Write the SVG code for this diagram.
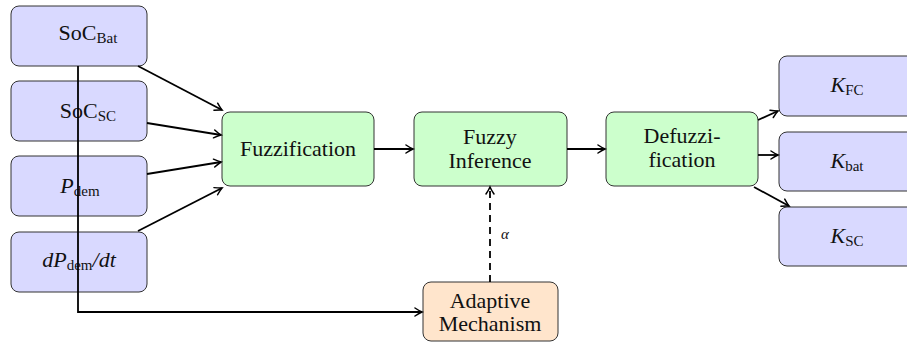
<svg xmlns="http://www.w3.org/2000/svg" width="907" height="345" viewBox="0 0 907 345" font-family="'Liberation Serif', 'Times New Roman', 'DejaVu Serif', serif">
<defs>
<marker id="arr" viewBox="-10 -6 12 12" refX="0" refY="0" markerWidth="12" markerHeight="12" markerUnits="userSpaceOnUse" orient="auto">
<path d="M-7,-4 Q-2.5,-1 0,0 Q-2.5,1 -7,4" fill="none" stroke="#000" stroke-width="1.5" stroke-linecap="round"/>
</marker>
<style>
.box{stroke:#333;stroke-width:1}
.in{fill:#d9d9ff}
.proc{fill:#ccffcc}
.adp{fill:#ffe5cc}
.t{font-family:'Liberation Serif','Times New Roman','DejaVu Serif',serif;font-size:22px;fill:#111;text-anchor:middle}
.it{font-style:italic}
.sub{font-size:15px;font-style:normal}
.lbl{font-size:15px;font-style:italic}
.c{fill:none;stroke:#000;stroke-width:1.8}
.d{stroke-dasharray:7,5}
</style>
</defs>
<g id="soc_bat"><rect class="box in" x="11" y="6" width="136" height="60" rx="8"/><text class="t" x="88" y="40">SoC<tspan class="sub" dy="3">Bat</tspan></text></g>
<g id="soc_sc"><rect class="box in" x="11" y="81" width="136" height="60" rx="8"/><text class="t" x="88" y="118">SoC<tspan class="sub" dy="3">SC</tspan></text></g>
<g id="p_dem"><rect class="box in" x="11" y="156" width="136" height="60" rx="8"/><text class="t" x="80" y="193"><tspan class="it">P</tspan><tspan class="sub" dy="3">dem</tspan></text></g>
<g id="dp_dem"><rect class="box in" x="11" y="232" width="136" height="60" rx="8"/><text class="t" x="79" y="267"><tspan class="it">dP</tspan><tspan class="sub" dy="3">dem</tspan><tspan class="it" dy="-3">/dt</tspan></text></g>
<g id="fuzzification"><rect class="box proc" x="222" y="112" width="152" height="74" rx="8"/><text class="t" x="298" y="156">Fuzzification</text></g>
<g id="inference"><rect class="box proc" x="414" y="112" width="153" height="74" rx="8"/><text class="t" x="490" y="144">Fuzzy</text><text class="t" x="490" y="168">Inference</text></g>
<g id="defuzzification"><rect class="box proc" x="606" y="112" width="152" height="74" rx="8"/><text class="t" x="682" y="143">Defuzzi-</text><text class="t" x="682" y="167">fication</text></g>
<g id="k_fc"><rect class="box in" x="779" y="56" width="136" height="60" rx="8"/><text class="t" x="847" y="92"><tspan class="it">K</tspan><tspan class="sub" dy="3">FC</tspan></text></g>
<g id="k_bat"><rect class="box in" x="779" y="132" width="136" height="59" rx="8"/><text class="t" x="847" y="168"><tspan class="it">K</tspan><tspan class="sub" dy="3">bat</tspan></text></g>
<g id="k_sc"><rect class="box in" x="779" y="207" width="136" height="59" rx="8"/><text class="t" x="847" y="243"><tspan class="it">K</tspan><tspan class="sub" dy="3">SC</tspan></text></g>
<g id="adaptive"><rect class="box adp" x="423" y="282" width="135" height="59" rx="8"/><text class="t" x="490" y="308">Adaptive</text><text class="t" x="490" y="331">Mechanism</text></g>
<g id="connectors">
<line class="c" x1="138" y1="66" x2="222" y2="110" marker-end="url(#arr)"/>
<line class="c" x1="147" y1="123" x2="221" y2="135" marker-end="url(#arr)"/>
<line class="c" x1="147" y1="174" x2="221" y2="162" marker-end="url(#arr)"/>
<line class="c" x1="138" y1="231" x2="222" y2="188" marker-end="url(#arr)"/>
<line class="c" x1="374" y1="149" x2="413" y2="149" marker-end="url(#arr)"/>
<line class="c" x1="567" y1="149" x2="605" y2="149" marker-end="url(#arr)"/>
<line class="c" x1="758" y1="120" x2="778" y2="111" marker-end="url(#arr)"/>
<line class="c" x1="758" y1="155" x2="778" y2="155" marker-end="url(#arr)"/>
<line class="c" x1="754" y1="187" x2="789" y2="206" marker-end="url(#arr)"/>
<polyline class="c" points="78,66 78,312 422,312" marker-end="url(#arr)"/>
<line class="c d" x1="490" y1="282" x2="490" y2="187" marker-end="url(#arr)"/>
<text class="t lbl" x="505" y="239">α</text>
</g>
</svg>
